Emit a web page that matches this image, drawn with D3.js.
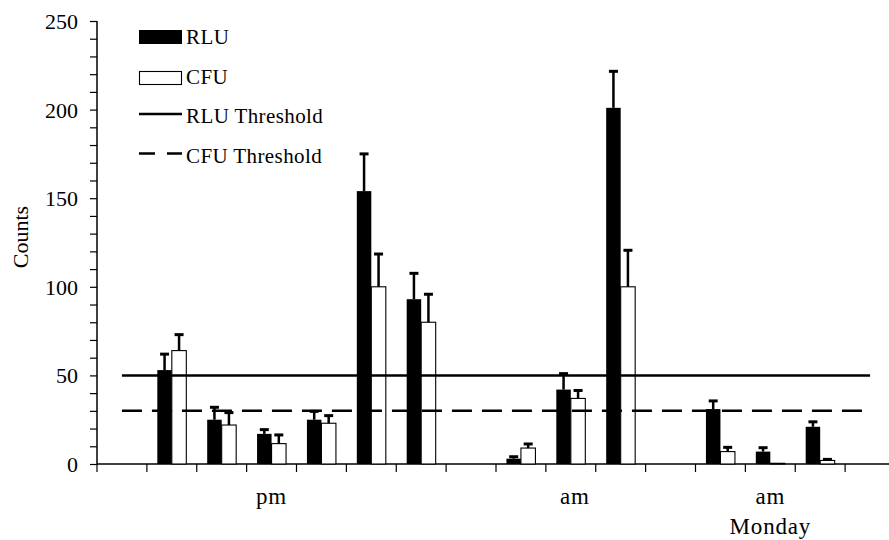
<!DOCTYPE html>
<html lang="en">
<head>
<meta charset="utf-8">
<script src="https://cdnjs.cloudflare.com/ajax/libs/d3/7.8.5/d3.min.js"></script>
<style>
html, body {
  margin: 0;
  padding: 0;
  background: #fff;
}
svg, svg text {
  font-family: 'Liberation Serif', 'Times New Roman', serif;
}
</style>
</head>
<body>
<svg width="889" height="540"></svg>
<script>
// 16 slots on the x axis, the first, 8th, 12th and last are empty
const slots = d3.range(16);
const rlu    = [null, 53, 25, 17, 25, 154, 93, null, 3, 42, 201, null, 31, 7, 21, null];
const rluErr = [null, 9, 7, 2.4, 4.7, 21, 14.6, null, 1.1, 9, 20.6, null, 4.6, 2.2, 2.8, null];
const cfu    = [null, 64, 22, 11.5, 23, 100, 80, null, 9, 37, 100, null, 7, 0.4, 2, null];
const cfuErr = [null, 9, 7, 4.9, 4.3, 18.5, 15.8, null, 2.3, 4.5, 20.6, null, 2.4, 0, 0.6, null];
const rluThreshold = 50;
const cfuThreshold = 30;
const yTicks = [0, 50, 100, 150, 200, 250];
const groupLabels = [
  { slot: 3, lines: ['pm'] },
  { slot: 9, lines: ['am'] },
  { slot: 13, lines: ['am', 'Monday'] }
];

const svg = d3.select('svg');

const x = d3.scaleBand()
  .domain(slots)
  .range([97, 895])
  .padding(0);

const series = ['RLU', 'CFU'];
const x1 = d3.scaleBand()
  .domain(series)
  .range([0, x.bandwidth()])
  .paddingInner(0)
  .paddingOuter(0.72);

const y = d3.scaleLinear()
  .domain([0, 250])
  .range([464, 21]);

// y axis
const yAxis = svg.append('g')
  .attr('transform', 'translate(97,0)')
  .call(d3.axisLeft(y).tickValues(d3.range(0, 251, 10)).tickSize(7).tickFormat(d => yTicks.includes(d) ? d : ''));
yAxis.attr('font-family', null).attr('font-size', null);
yAxis.select('.domain').attr('stroke-width', 1.5).attr('d', `M0,${y(250)}V${y(0)}`);
yAxis.selectAll('.tick line').attr('stroke-width', 1.2);
yAxis.selectAll('.tick text')
  .attr('x', -19)
  .attr('dy', '0.34em')
  .style('font-size', '22px')
  .attr('fill', '#000');

// x axis, ticks on band boundaries
const xAxis = svg.append('g').attr('transform', `translate(0,${y(0)})`);
xAxis.append('line')
  .attr('x1', 97).attr('x2', 895)
  .attr('stroke', '#000').attr('stroke-width', 1.5);
xAxis.selectAll('.xtick')
  .data(slots)
  .enter()
  .append('line')
  .attr('x1', d => x(d)).attr('x2', d => x(d))
  .attr('y1', 0).attr('y2', 8)
  .attr('stroke', '#000').attr('stroke-width', 1.2);

// group labels under the axis
groupLabels.forEach(g => {
  g.lines.forEach((t, i) => {
    svg.append('text')
      .attr('x', x(g.slot) + x.bandwidth() / 2 + (g.slot === 9 ? 4 : 0))
      .attr('y', 504 + i * 30)
      .attr('text-anchor', 'middle')
      .style('font-size', '23px')
      .style('letter-spacing', '0.8px')
      .text(t);
  });
});

// y label
svg.append('text')
  .attr('transform', 'translate(28,237) rotate(-90)')
  .attr('text-anchor', 'middle')
  .style('font-size', '22px')
  .text('Counts');

// bars
const rows = slots.filter(i => rlu[i] !== null).map(i => ({
  slot: i,
  values: [
    { key: 'RLU', v: rlu[i], e: rluErr[i] },
    { key: 'CFU', v: cfu[i], e: cfuErr[i] }
  ]
}));

const groups = svg.selectAll('.grp')
  .data(rows)
  .enter()
  .append('g')
  .attr('transform', d => `translate(${x(d.slot)},0)`);

groups.selectAll('rect')
  .data(d => d.values)
  .enter()
  .append('rect')
  .attr('x', d => x1(d.key))
  .attr('y', d => y(d.v))
  .attr('width', x1.bandwidth())
  .attr('height', d => y(0) - y(d.v))
  .attr('fill', d => d.key === 'RLU' ? '#000' : '#fff')
  .attr('stroke', '#000')
  .attr('stroke-width', d => d.key === 'RLU' ? 0 : 1.1);

// error bars (upper only)
const err = groups.selectAll('.err')
  .data(d => d.values.filter(v => v.e > 0))
  .enter()
  .append('g');
err.append('line')
  .attr('x1', d => x1(d.key) + x1.bandwidth() / 2)
  .attr('x2', d => x1(d.key) + x1.bandwidth() / 2)
  .attr('y1', d => y(d.v))
  .attr('y2', d => y(d.v + d.e))
  .attr('stroke', '#000').attr('stroke-width', 2.5);
err.append('line')
  .attr('x1', d => x1(d.key) + x1.bandwidth() / 2 - 4.5)
  .attr('x2', d => x1(d.key) + x1.bandwidth() / 2 + 4.5)
  .attr('y1', d => y(d.v + d.e))
  .attr('y2', d => y(d.v + d.e))
  .attr('stroke', '#000').attr('stroke-width', 3);

// threshold lines across the chart
const tx1 = x(0) + x.bandwidth() / 2;
const tx2 = x(15) + x.bandwidth() / 2;
svg.append('line')
  .attr('x1', tx1).attr('x2', tx2)
  .attr('y1', y(rluThreshold)).attr('y2', y(rluThreshold))
  .attr('stroke', '#000').attr('stroke-width', 2.5);
svg.append('line')
  .attr('x1', tx1).attr('x2', tx2)
  .attr('y1', y(cfuThreshold)).attr('y2', y(cfuThreshold))
  .attr('stroke', '#000').attr('stroke-width', 2.5)
  .attr('stroke-dasharray', '20 10');

// legend
const legend = svg.append('g').attr('transform', 'translate(139,0)');
const legendItems = ['RLU', 'CFU', 'RLU Threshold', 'CFU Threshold'];
legendItems.forEach((name, i) => {
  const base = 44 + i * 39.5;
  if (i === 0) {
    legend.append('rect').attr('x', 0).attr('y', 30).attr('width', 43).attr('height', 14).attr('fill', '#000');
  } else if (i === 1) {
    legend.append('rect').attr('x', 0.5).attr('y', 71.5).attr('width', 42).attr('height', 13)
      .attr('fill', '#fff').attr('stroke', '#000').attr('stroke-width', 1.1);
  } else {
    legend.append('line')
      .attr('x1', 0).attr('x2', 43)
      .attr('y1', base - 9).attr('y2', base - 9)
      .attr('stroke', '#000').attr('stroke-width', 2.5)
      .attr('stroke-dasharray', i === 3 ? '16 12' : null);
  }
  legend.append('text')
    .attr('x', 47)
    .attr('y', base)
    .style('font-size', '21px')
    .style('letter-spacing', '0.4px')
    .text(name);
});
</script>
</body>
</html>
